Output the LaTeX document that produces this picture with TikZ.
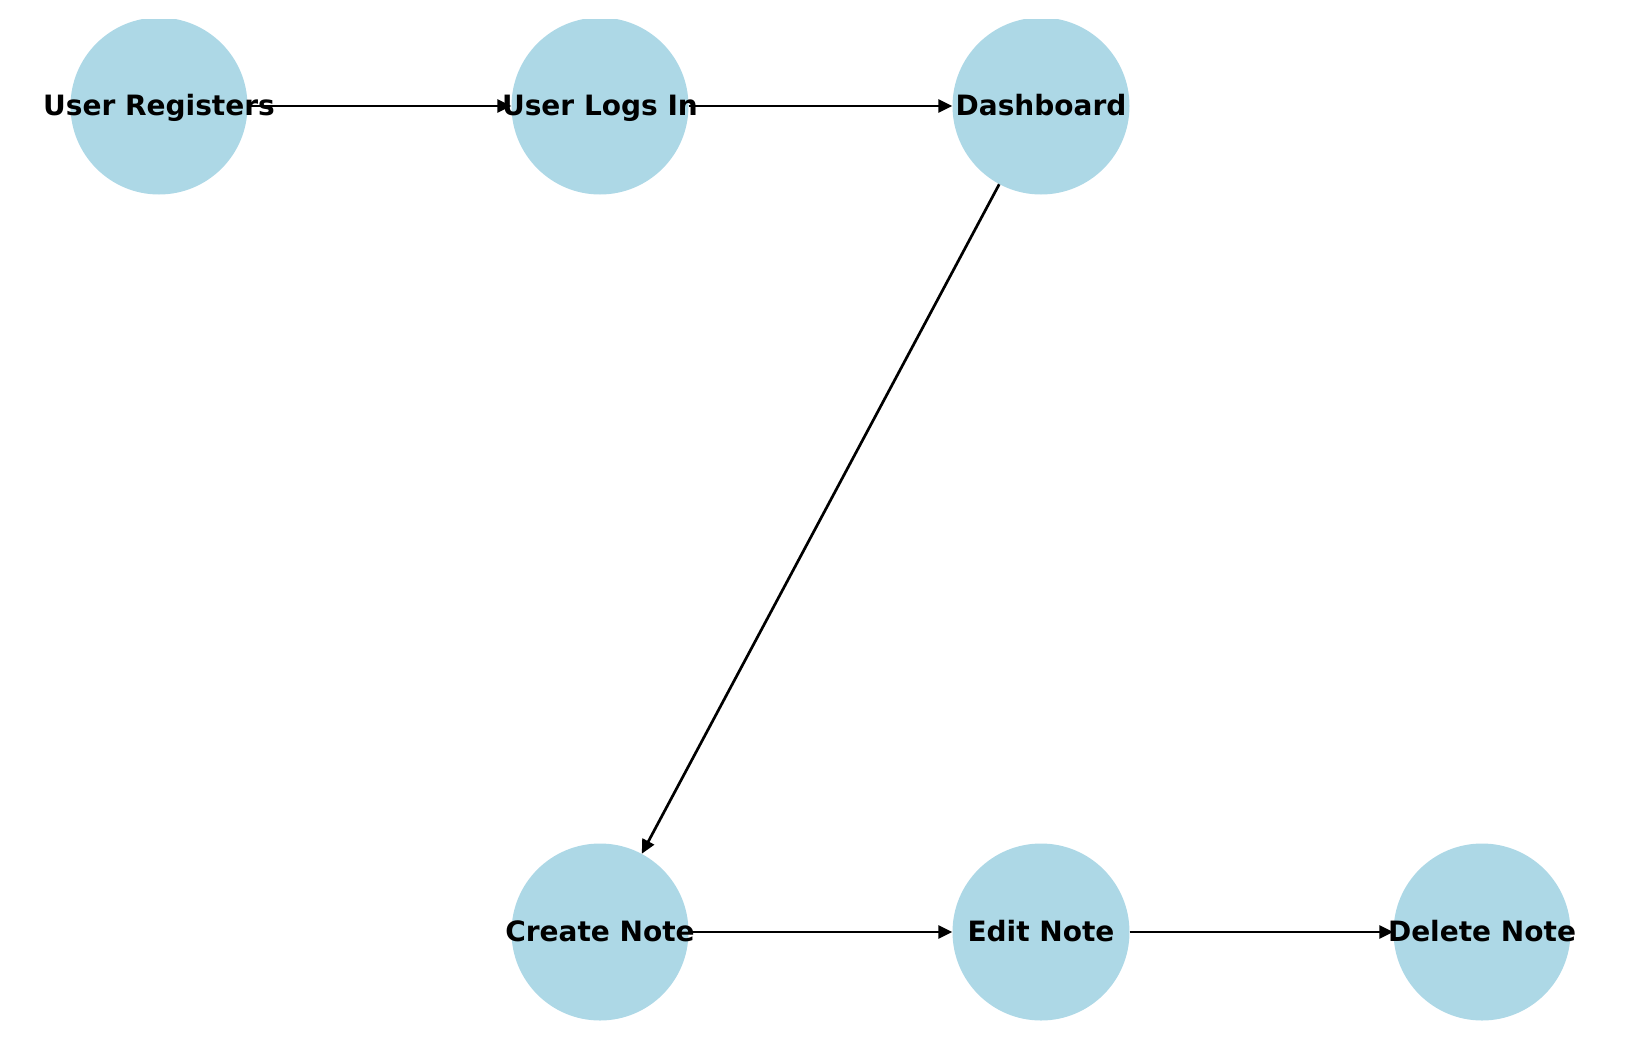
\documentclass[tikz,border=0pt]{standalone}
\usepackage{fontspec}
\setmainfont{DejaVu Sans}
\usetikzlibrary{arrows.meta}
\definecolor{lblue}{HTML}{ADD8E6}
\tikzset{
  vertex/.style={circle, fill=lblue, inner sep=0pt, minimum size=177pt},
  lbl/.style={font=\fontsize{28}{30}\selectfont\bfseries, inner sep=0pt, text height=22pt, text depth=4pt},
  edge/.style={line width=2.7pt, -{Triangle[length=14pt,width=13pt]}}
}
\begin{document}
\begin{tikzpicture}[x=1pt,y=-1pt]
\useasboundingbox (0,0) rectangle (1639,1039);
\begin{scope}
\clip (0,19) rectangle (1639,1020);
\node[vertex] (ur) at (159,106) {};
\node[vertex] (ul) at (600,106) {};
\node[vertex] (db) at (1041,106) {};
\node[vertex] (cn) at (600,932) {};
\node[vertex] (en) at (1041,932) {};
\node[vertex] (dn) at (1482,932) {};
\end{scope}
\draw[edge] (ur) -- (ul);
\draw[edge] (ul) -- (db);
\draw[edge] (db) -- (cn);
\draw[edge] (cn) -- (en);
\draw[edge] (en) -- (dn);
\node[lbl] at (ur) {User Registers};
\node[lbl] at (ul) {User Logs In};
\node[lbl] at (db) {Dashboard};
\node[lbl] at (cn) {Create Note};
\node[lbl] at (en) {Edit Note};
\node[lbl] at (dn) {Delete Note};
\end{tikzpicture}
\end{document}
